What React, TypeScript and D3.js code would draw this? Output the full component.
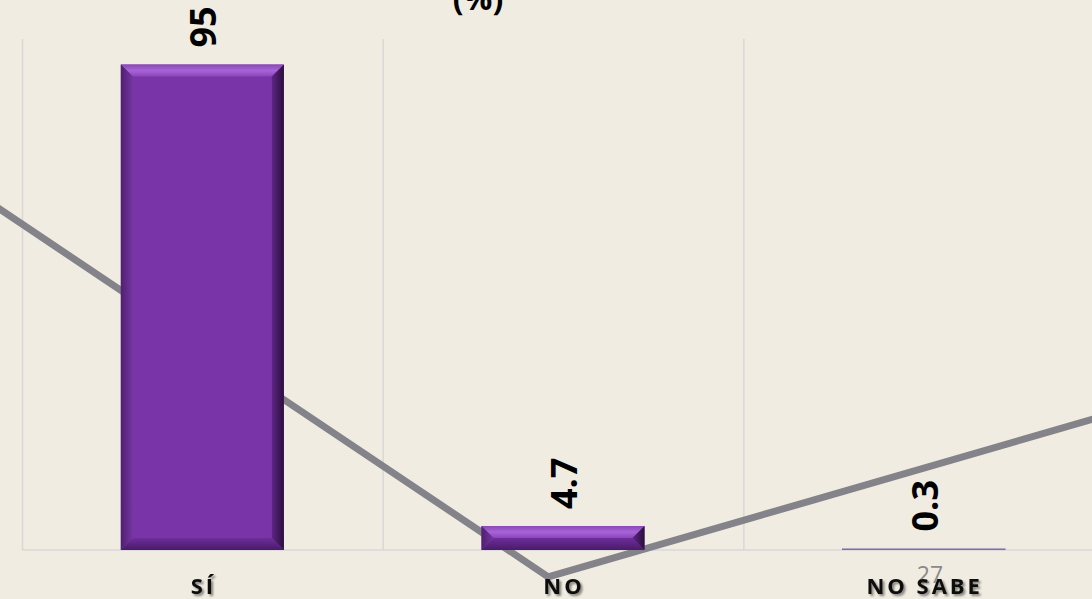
import React from "react";
import * as d3 from "d3";

const categories = ["SÍ", "NO", "NO SABE"];
const values = [95, 4.7, 0.3];
const valueLabels = ["95", "4.7", "0.3"];
const title = "(%)";
const pageNumber = "27";
// decorative slide stroke, as fractions of the canvas
const decoLine: [number, number][] = [
  [-0.02, 0.325],
  [0.502, 0.963],
  [1.01, 0.695],
];

const W = 1092;
const H = 599;

export default function App() {
  const x = d3.scaleBand<string>().domain(categories).range([22, 1104]).paddingInner(0.548).paddingOuter(0.274);
  const y = d3.scaleLinear().domain([0, 100]).range([550, 39]);
  const band = x.step();
  const gridXs = [0, 1, 2, 3].map((i) => 22 + i * band);
  const line = d3.line<[number, number]>().x((d) => d[0] * W).y((d) => d[1] * H);
  const font = "'Open Sans', 'Noto Sans', sans-serif";

  return (
    <svg width={W} height={H} style={{ position: "fixed", left: 0, top: 0, background: "#f0ece1" }}>
      <defs>
        <linearGradient id="topG" x1="0" y1="0" x2="0" y2="1">
          <stop offset="0" stopColor="#8a48b8" />
          <stop offset="0.5" stopColor="#a864d6" />
          <stop offset="1" stopColor="#8c45bc" />
        </linearGradient>
        <linearGradient id="rightG" x1="0" y1="0" x2="1" y2="0">
          <stop offset="0" stopColor="#5e2585" />
          <stop offset="1" stopColor="#2a0f3c" />
        </linearGradient>
        <linearGradient id="botG" x1="0" y1="0" x2="0" y2="1">
          <stop offset="0" stopColor="#6e2e9a" />
          <stop offset="1" stopColor="#4a1a6a" />
        </linearGradient>
        <linearGradient id="leftG" x1="0" y1="0" x2="1" y2="0">
          <stop offset="0" stopColor="#50206e" />
          <stop offset="1" stopColor="#7535a2" />
        </linearGradient>
        <filter id="sh" x="-10%" y="-30%" width="120%" height="160%">
          <feGaussianBlur in="SourceAlpha" stdDeviation="1.2" />
          <feOffset dx="1.5" dy="1.5" result="b" />
          <feComponentTransfer><feFuncA type="linear" slope="0.45" /></feComponentTransfer>
          <feMerge><feMergeNode /><feMergeNode in="SourceGraphic" /></feMerge>
        </filter>
      </defs>
      <rect width={W} height={H} fill="#f0ece1" />
      {gridXs.map((gx, i) => (
        <line key={i} x1={gx + 0.5} x2={gx + 0.5} y1={y(100)} y2={y(0)} stroke="#d9d8d8" strokeWidth={1.5} />
      ))}
      <line x1={22} x2={W} y1={y(0)} y2={y(0)} stroke="#d9d8d8" strokeWidth={1.5} />
      <path d={line(decoLine) || ""} fill="none" stroke="#848389" strokeWidth={7} strokeLinejoin="miter" />
      {categories.map((c, i) => {
        const x0 = x(c)!;
        const x1 = x0 + x.bandwidth();
        const y0 = y(values[i]);
        const y1 = y(0);
        const h = y1 - y0;
        const b = Math.min(12, h / 2, x.bandwidth() / 2);
        return (
          <g key={c}>
            <rect x={x0} y={y0} width={x1 - x0} height={h} fill="#7935a7" />
            <polygon points={`${x0},${y0} ${x1},${y0} ${x1 - b},${y0 + b} ${x0 + b},${y0 + b}`} fill="url(#topG)" />
            <polygon points={`${x1},${y0} ${x1},${y1} ${x1 - b},${y1 - b} ${x1 - b},${y0 + b}`} fill="url(#rightG)" />
            <polygon points={`${x0},${y1} ${x1},${y1} ${x1 - b},${y1 - b} ${x0 + b},${y1 - b}`} fill="url(#botG)" />
            <polygon points={`${x0},${y0} ${x0 + b},${y0 + b} ${x0 + b},${y1 - b} ${x0},${y1}`} fill="url(#leftG)" />
            {h < 3 && <rect x={x0} y={y0 - 0.5} width={x1 - x0} height={1.5} fill="#b9a6c8" />}
            <text
              transform={`translate(${x0 + x.bandwidth() / 2 + 14},${y0 - 17}) rotate(-90)`}
              fontFamily={font}
              fontWeight={700}
              fontSize={36}
              fill="#000"
            >
              {valueLabels[i]}
            </text>
          </g>
        );
      })}
      <text x={478} y={10} textAnchor="middle" fontFamily={font} fontWeight={700} fontSize={32} fill="#000">
        {title}
      </text>
      <text x={930} y={583} textAnchor="middle" fontFamily={font} fontSize={23} fill="#8a8a8a">
        {pageNumber}
      </text>
      {categories.map((c) => (
        <text
          key={c}
          x={x(c)! + x.bandwidth() / 2 + 1}
          y={594}
          textAnchor="middle"
          fontFamily={font}
          fontWeight={700}
          fontSize={22}
          letterSpacing={3}
          fill="#0d0d0d"
          filter="url(#sh)"
        >
          {c}
        </text>
      ))}
    </svg>
  );
}
